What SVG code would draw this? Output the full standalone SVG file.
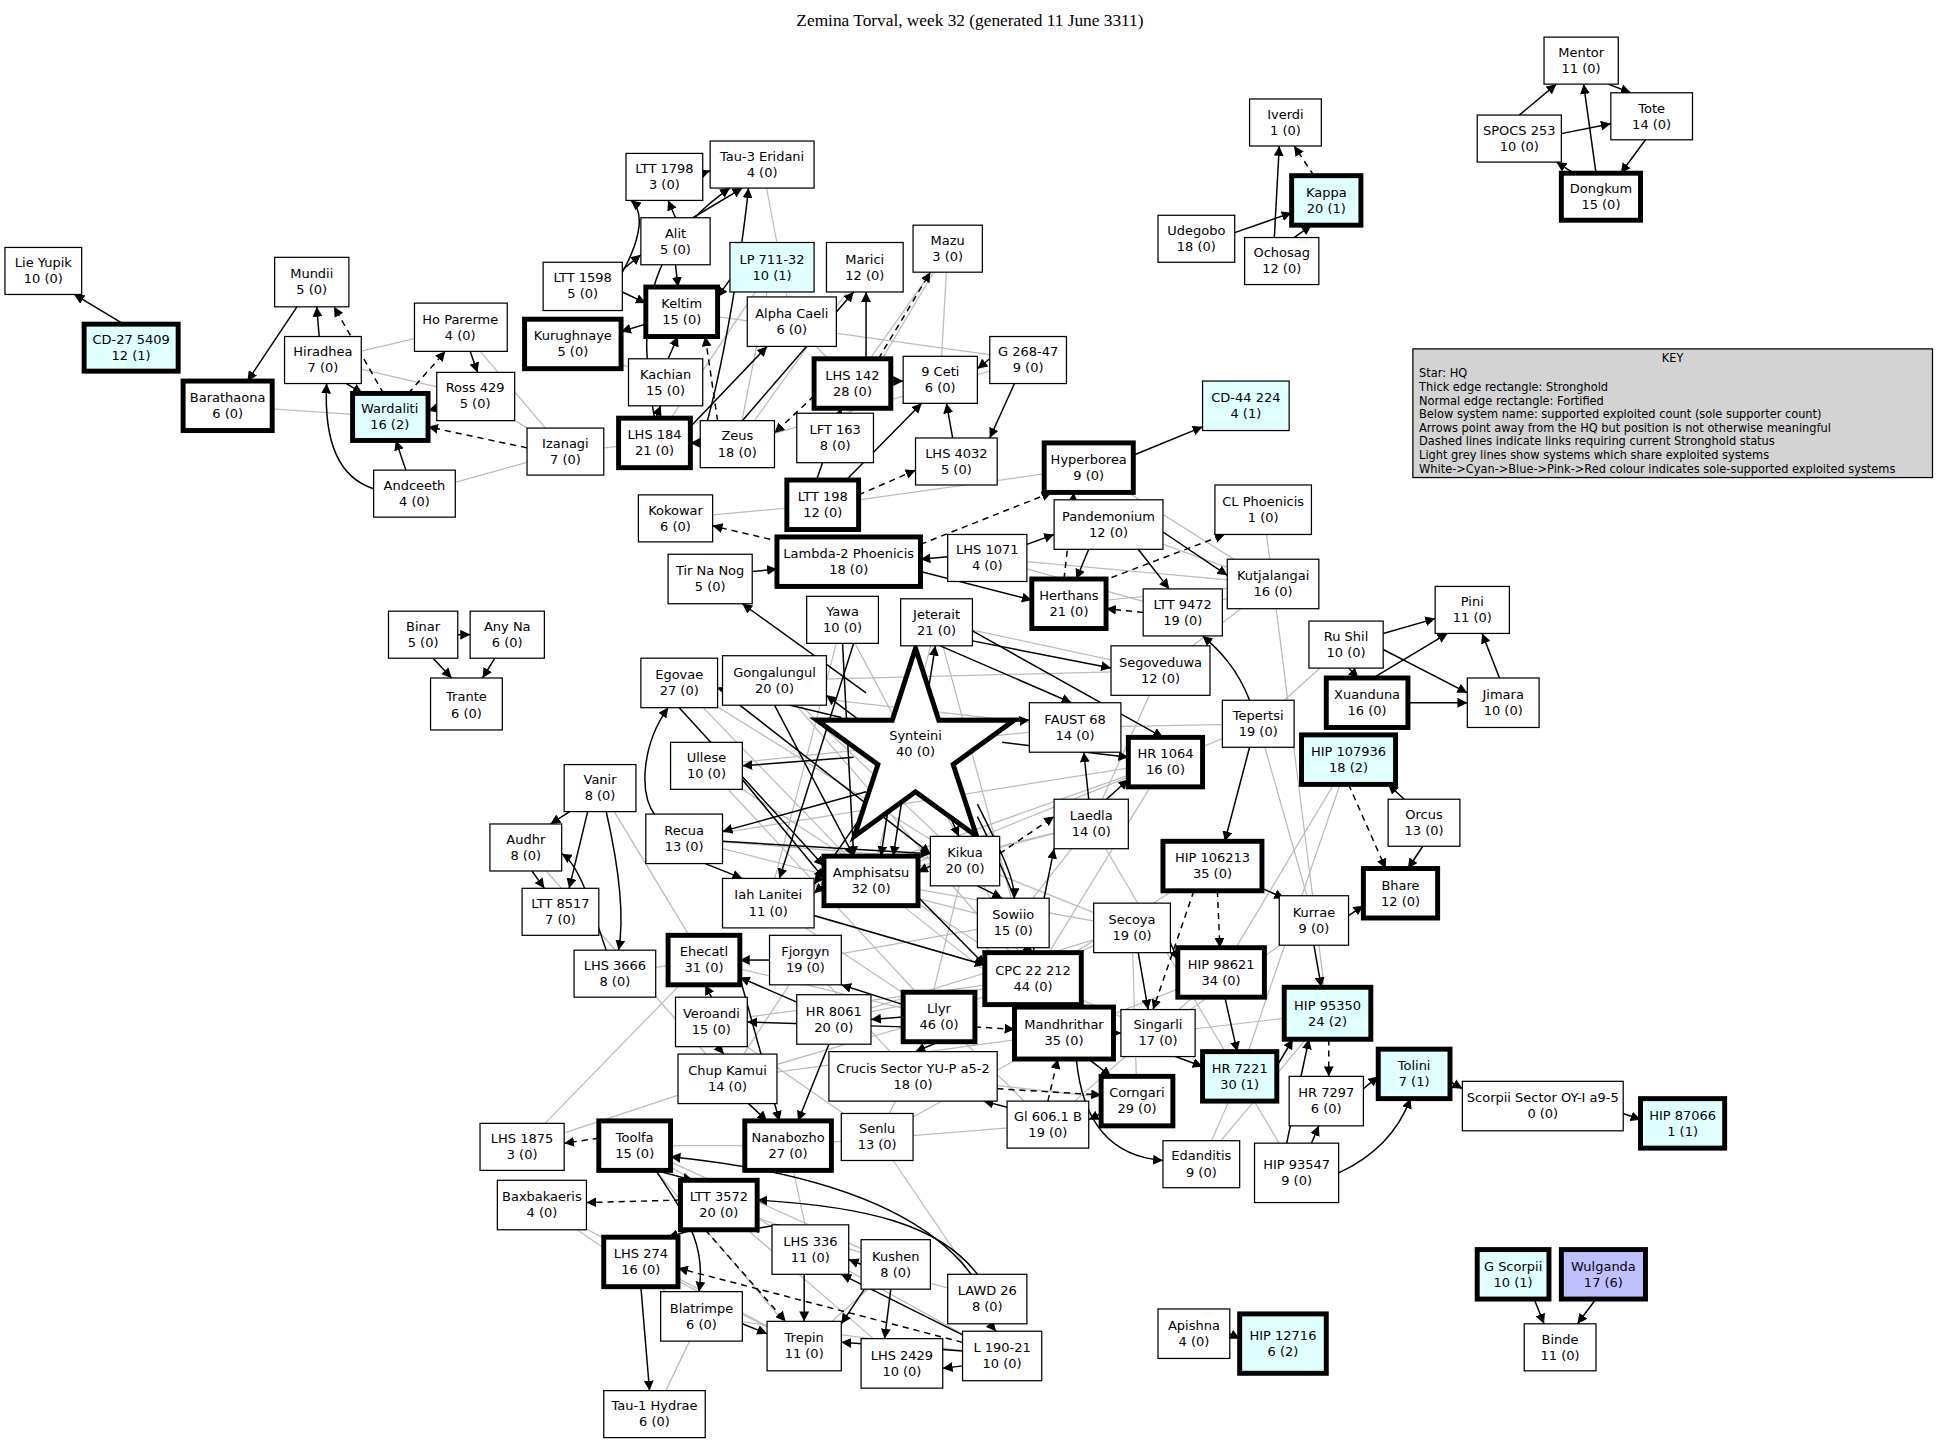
<svg xmlns="http://www.w3.org/2000/svg" width="1940" height="1443" viewBox="0 0 1940 1443">
<style>
rect{fill:#fff;stroke:#000;stroke-width:1}
rect.t{stroke-width:4}
rect.c{fill:#e0ffff}
rect.b{fill:#c0c0ff}
text{font-family:"DejaVu Sans",sans-serif;font-size:10.5px;text-anchor:middle;fill:#000}
text.k{font-size:9.2px;text-anchor:start}
.e line,.e path{stroke:#000;stroke-width:1.2;fill:none;marker-end:url(#a)}
.e .d{stroke-dasharray:5,4}
.g line{stroke:#bbb;stroke-width:1}
</style>
<defs><marker id="a" viewBox="0 0 10 10" refX="10" refY="5" markerWidth="8" markerHeight="8" orient="auto" markerUnits="userSpaceOnUse"><path d="M0,0L10,5L0,10z" fill="#000"/></marker></defs>
<rect x="0" y="0" width="1940" height="1443" style="fill:#fff;stroke:none"/>
<g transform="scale(1.2372)">
<text x="784" y="21" style="font-family:'Liberation Serif',serif;font-size:14px">Zemina Torval, week 32 (generated 11 June 3311)</text>
<g class="g">
<line x1="624" y1="216" x2="596" y2="359"/><line x1="624" y1="216" x2="529" y2="358"/><line x1="616" y1="133" x2="640" y2="260"/><line x1="766" y1="201" x2="689" y2="310"/><line x1="766" y1="201" x2="760" y2="307"/><line x1="766" y1="201" x2="675" y2="354"/><line x1="699" y1="216" x2="596" y2="359"/><line x1="640" y1="260" x2="689" y2="310"/><line x1="372" y1="265" x2="261" y2="291"/><line x1="372" y1="265" x2="457" y2="365"/><line x1="184" y1="328" x2="315" y2="337"/><line x1="261" y1="291" x2="384" y2="320"/><line x1="384" y1="320" x2="457" y2="365"/><line x1="457" y1="365" x2="335" y2="399"/><line x1="457" y1="365" x2="529" y2="358"/><line x1="463" y1="278" x2="538" y2="309"/><line x1="551" y1="252" x2="831" y2="291"/><line x1="596" y1="359" x2="831" y2="291"/><line x1="546" y1="419" x2="665" y2="408"/><line x1="665" y1="408" x2="880" y2="378"/><line x1="880" y1="378" x2="1029" y2="472"/><line x1="896" y1="424" x2="1029" y2="472"/><line x1="798" y1="451" x2="1029" y2="472"/><line x1="798" y1="451" x2="956" y2="495"/><line x1="864" y1="488" x2="1029" y2="472"/><line x1="1021" y1="412" x2="1029" y2="472"/><line x1="956" y1="495" x2="1029" y2="472"/><line x1="1017" y1="585" x2="1088" y2="521"/><line x1="1017" y1="585" x2="869" y2="588"/><line x1="1017" y1="585" x2="942" y2="616"/><line x1="1017" y1="585" x2="1062" y2="744"/><line x1="1029" y1="472" x2="1073" y2="819"/><line x1="1090" y1="614" x2="987" y2="786"/><line x1="1090" y1="614" x2="1002" y2="870"/><line x1="938" y1="542" x2="1029" y2="472"/><line x1="938" y1="542" x2="882" y2="666"/><line x1="938" y1="542" x2="757" y2="503"/><line x1="938" y1="542" x2="626" y2="550"/><line x1="869" y1="588" x2="549" y2="552"/><line x1="869" y1="588" x2="571" y2="619"/><line x1="942" y1="616" x2="553" y2="678"/><line x1="942" y1="616" x2="621" y2="730"/><line x1="942" y1="616" x2="704" y2="712"/><line x1="942" y1="616" x2="835" y2="791"/><line x1="882" y1="666" x2="704" y2="712"/><line x1="882" y1="666" x2="621" y2="730"/><line x1="882" y1="666" x2="819" y2="746"/><line x1="882" y1="666" x2="1002" y2="870"/><line x1="757" y1="503" x2="835" y2="791"/><line x1="757" y1="503" x2="704" y2="712"/><line x1="681" y1="501" x2="621" y2="730"/><line x1="681" y1="501" x2="835" y2="791"/><line x1="626" y1="550" x2="835" y2="791"/><line x1="626" y1="550" x2="780" y2="696"/><line x1="549" y1="552" x2="780" y2="696"/><line x1="549" y1="552" x2="704" y2="712"/><line x1="571" y1="619" x2="835" y2="791"/><line x1="571" y1="619" x2="759" y2="822"/><line x1="553" y1="678" x2="780" y2="696"/><line x1="553" y1="678" x2="819" y2="746"/><line x1="485" y1="637" x2="569" y2="776"/><line x1="425" y1="685" x2="588" y2="872"/><line x1="621" y1="730" x2="835" y2="791"/><line x1="621" y1="730" x2="759" y2="822"/><line x1="704" y1="712" x2="860" y2="835"/><line x1="704" y1="712" x2="915" y2="750"/><line x1="780" y1="696" x2="915" y2="750"/><line x1="780" y1="696" x2="738" y2="870"/><line x1="819" y1="746" x2="651" y2="776"/><line x1="835" y1="791" x2="575" y2="826"/><line x1="835" y1="791" x2="674" y2="824"/><line x1="835" y1="791" x2="936" y2="835"/><line x1="915" y1="750" x2="759" y2="822"/><line x1="915" y1="750" x2="919" y2="890"/><line x1="915" y1="750" x2="674" y2="824"/><line x1="987" y1="786" x2="860" y2="835"/><line x1="987" y1="786" x2="847" y2="909"/><line x1="980" y1="700" x2="835" y2="791"/><line x1="1062" y1="744" x2="936" y2="835"/><line x1="1073" y1="819" x2="936" y2="835"/><line x1="1073" y1="819" x2="971" y2="941"/><line x1="1002" y1="870" x2="1048" y2="948"/><line x1="1002" y1="870" x2="971" y2="941"/><line x1="759" y1="822" x2="847" y2="909"/><line x1="759" y1="822" x2="709" y2="919"/><line x1="759" y1="822" x2="588" y2="872"/><line x1="651" y1="776" x2="738" y2="870"/><line x1="651" y1="776" x2="588" y2="872"/><line x1="569" y1="776" x2="759" y2="822"/><line x1="575" y1="826" x2="709" y2="919"/><line x1="588" y1="872" x2="860" y2="835"/><line x1="588" y1="872" x2="422" y2="927"/><line x1="738" y1="870" x2="919" y2="890"/><line x1="637" y1="926" x2="847" y2="909"/><line x1="709" y1="919" x2="860" y2="835"/><line x1="637" y1="926" x2="513" y2="926"/><line x1="513" y1="926" x2="655" y2="1010"/><line x1="513" y1="926" x2="724" y2="1022"/><line x1="513" y1="926" x2="650" y2="1088"/><line x1="581" y1="974" x2="724" y2="1022"/><line x1="581" y1="974" x2="729" y2="1102"/><line x1="438" y1="974" x2="567" y2="1064"/><line x1="438" y1="974" x2="650" y2="1088"/><line x1="518" y1="1020" x2="650" y2="1088"/><line x1="567" y1="1064" x2="529" y2="1143"/><line x1="567" y1="1064" x2="810" y2="1096"/><line x1="655" y1="1010" x2="798" y2="1050"/><line x1="655" y1="1010" x2="810" y2="1096"/><line x1="724" y1="1022" x2="650" y2="1088"/><line x1="709" y1="919" x2="798" y2="1050"/><line x1="637" y1="926" x2="655" y2="1010"/><line x1="422" y1="927" x2="569" y2="776"/><line x1="497" y1="787" x2="569" y2="776"/>
</g>
<g class="e">
<line x1="1228" y1="93" x2="1258" y2="68"/><line x1="1290" y1="140" x2="1280" y2="68"/><line x1="1300" y1="68" x2="1318" y2="75"/><line x1="1262" y1="108" x2="1302" y2="100"/><line x1="1330" y1="113" x2="1310" y2="140"/><line x1="1272" y1="140" x2="1258" y2="131"/>
<line x1="998" y1="188" x2="1044" y2="172"/><line x1="1030" y1="192" x2="1034" y2="118"/><line class="d" x1="1062" y1="142" x2="1046" y2="118"/><line x1="1046" y1="192" x2="1060" y2="182"/>
<line x1="100" y1="262" x2="60" y2="238"/><line x1="258" y1="272" x2="256" y2="248"/><line x1="240" y1="248" x2="200" y2="308"/><line class="d" x1="310" y1="318" x2="270" y2="248"/><line x1="353" y1="330" x2="346" y2="332"/><line x1="380" y1="284" x2="386" y2="301"/><line class="d" x1="330" y1="318" x2="360" y2="284"/><line class="d" x1="426" y1="362" x2="346" y2="345"/><line x1="328" y1="380" x2="320" y2="356"/><path d="M302,395 C270,385 262,350 264,310"/><line x1="280" y1="310" x2="293" y2="318"/>
<path d="M502,222 C520,190 520,170 510,162"/><line x1="560" y1="176" x2="600" y2="152"/><line x1="568" y1="140" x2="574" y2="138"/><line x1="546" y1="176" x2="540" y2="162"/><line x1="546" y1="214" x2="548" y2="232"/><line x1="503" y1="236" x2="522" y2="245"/><line x1="522" y1="262" x2="502" y2="268"/><line x1="503" y1="218" x2="518" y2="206"/><line x1="540" y1="290" x2="548" y2="272"/><line x1="530" y1="338" x2="534" y2="328"/><line x1="558" y1="345" x2="620" y2="280"/><line class="d" x1="580" y1="340" x2="570" y2="272"/><line x1="600" y1="340" x2="690" y2="236"/><line class="d" x1="658" y1="320" x2="626" y2="350"/><line x1="700" y1="290" x2="700" y2="236"/><line x1="590" y1="226" x2="580" y2="240"/><line x1="720" y1="308" x2="730" y2="308"/><line x1="800" y1="290" x2="790" y2="298"/><line x1="770" y1="354" x2="765" y2="326"/><line x1="820" y1="310" x2="800" y2="354"/><line x1="660" y1="388" x2="680" y2="330"/><line x1="684" y1="388" x2="745" y2="326"/><line class="d" x1="694" y1="400" x2="740" y2="380"/><line class="d" x1="710" y1="290" x2="752" y2="220"/><line x1="566" y1="358" x2="558" y2="358"/><path d="M529,338 C515,260 520,200 590,152"/><path d="M566,360 C585,300 600,200 605,152"/>
<line class="d" x1="640" y1="440" x2="576" y2="425"/><line class="d" x1="744" y1="440" x2="850" y2="398"/><line x1="916" y1="368" x2="972" y2="345"/><line x1="880" y1="444" x2="870" y2="468"/><line x1="766" y1="450" x2="744" y2="452"/><line x1="830" y1="440" x2="852" y2="432"/><line x1="744" y1="462" x2="834" y2="485"/><line class="d" x1="860" y1="468" x2="868" y2="398"/><line class="d" x1="924" y1="495" x2="894" y2="492"/><line class="d" x1="890" y1="470" x2="990" y2="432"/><line x1="940" y1="430" x2="992" y2="465"/><line x1="920" y1="444" x2="945" y2="476"/><line x1="608" y1="462" x2="628" y2="460"/>
<line x1="1118" y1="512" x2="1160" y2="500"/><line x1="1118" y1="525" x2="1186" y2="560"/><line x1="1110" y1="548" x2="1170" y2="512"/><line x1="1138" y1="568" x2="1186" y2="568"/><line x1="1090" y1="540" x2="1098" y2="548"/><line x1="1212" y1="548" x2="1198" y2="512"/>
<line x1="370" y1="513" x2="380" y2="513"/><line x1="350" y1="532" x2="365" y2="548"/><line x1="400" y1="532" x2="390" y2="548"/>
<line x1="1010" y1="604" x2="990" y2="680"/><path d="M1010,566 C1000,540 985,525 972,514"/><line class="d" x1="1090" y1="634" x2="1120" y2="702"/><line x1="1150" y1="684" x2="1138" y2="702"/><line x1="1135" y1="646" x2="1122" y2="634"/><line x1="1020" y1="718" x2="1038" y2="726"/><line class="d" x1="984" y1="720" x2="986" y2="766"/><line class="d" x1="965" y1="720" x2="932" y2="816"/><line x1="1090" y1="740" x2="1102" y2="732"/><line x1="1062" y1="764" x2="1068" y2="798"/><line x1="990" y1="806" x2="1000" y2="850"/><line x1="946" y1="762" x2="952" y2="776"/><line x1="920" y1="770" x2="928" y2="816"/><line class="d" x1="1074" y1="840" x2="1074" y2="870"/><line x1="1102" y1="880" x2="1114" y2="870"/><line x1="1172" y1="874" x2="1182" y2="880"/><line x1="1312" y1="900" x2="1326" y2="905"/><path d="M1082,948 C1110,935 1130,915 1140,888"/><line x1="1060" y1="924" x2="1066" y2="910"/><line x1="1040" y1="924" x2="1058" y2="840"/><line x1="1032" y1="862" x2="1045" y2="840"/><line x1="950" y1="854" x2="972" y2="862"/>
<line x1="880" y1="856" x2="898" y2="870"/><path d="M870,856 C875,910 900,935 940,938"/><line x1="900" y1="835" x2="906" y2="835"/><line class="d" x1="788" y1="830" x2="820" y2="832"/><line x1="730" y1="822" x2="704" y2="824"/><line class="d" x1="806" y1="880" x2="890" y2="885"/><line class="d" x1="847" y1="890" x2="855" y2="856"/><line x1="890" y1="900" x2="880" y2="905"/><line x1="814" y1="895" x2="795" y2="890"/>
<line x1="994" y1="1078" x2="1002" y2="1082"/><line x1="1240" y1="1050" x2="1248" y2="1070"/><line x1="1290" y1="1050" x2="1275" y2="1070"/>
<line x1="690" y1="612" x2="600" y2="619"/><line x1="700" y1="640" x2="584" y2="672"/><line x1="705" y1="590" x2="668" y2="562"/><line x1="710" y1="640" x2="658" y2="715"/><line x1="768" y1="660" x2="775" y2="676"/><path d="M790,650 C810,690 820,710 820,726"/><line x1="680" y1="580" x2="580" y2="556"/><line x1="700" y1="560" x2="600" y2="488"/><line x1="750" y1="560" x2="756" y2="522"/><line x1="800" y1="585" x2="832" y2="582"/><line x1="810" y1="600" x2="912" y2="612"/><path d="M790,660 C820,720 830,750 832,770"/><line x1="720" y1="640" x2="712" y2="692"/><line x1="730" y1="640" x2="722" y2="692"/>
<line x1="666" y1="715" x2="658" y2="722"/><line x1="752" y1="700" x2="742" y2="705"/><line x1="880" y1="646" x2="876" y2="608"/><line x1="890" y1="650" x2="912" y2="630"/><line class="d" x1="808" y1="690" x2="852" y2="660"/><line x1="830" y1="766" x2="835" y2="770"/><line x1="790" y1="716" x2="810" y2="726"/>
<line x1="760" y1="522" x2="866" y2="568"/><line x1="786" y1="510" x2="940" y2="596"/><line x1="786" y1="518" x2="898" y2="540"/><line x1="681" y1="520" x2="690" y2="692"/><line x1="690" y1="520" x2="630" y2="710"/><line x1="626" y1="570" x2="690" y2="692"/><line x1="549" y1="572" x2="666" y2="700"/><line x1="580" y1="556" x2="752" y2="690"/><line x1="600" y1="630" x2="666" y2="710"/><line x1="584" y1="680" x2="752" y2="690"/><line x1="658" y1="740" x2="796" y2="780"/><line x1="742" y1="725" x2="796" y2="780"/><line x1="835" y1="770" x2="852" y2="686"/>
<line x1="470" y1="650" x2="445" y2="666"/><line x1="475" y1="656" x2="460" y2="718"/><path d="M490,656 C500,700 505,740 500,768"/><line x1="430" y1="704" x2="440" y2="718"/><path d="M490,768 C480,740 470,700 454,690"/><path d="M530,660 C515,640 520,600 540,572"/><line x1="570" y1="698" x2="600" y2="710"/>
<line x1="622" y1="776" x2="598" y2="776"/><line x1="644" y1="810" x2="598" y2="790"/><line x1="575" y1="806" x2="570" y2="796"/><line x1="580" y1="846" x2="585" y2="852"/><line x1="605" y1="892" x2="620" y2="906"/><line x1="670" y1="844" x2="645" y2="906"/><line x1="598" y1="790" x2="630" y2="906"/><line x1="759" y1="842" x2="740" y2="850"/><line x1="730" y1="812" x2="680" y2="796"/><line x1="730" y1="830" x2="604" y2="826"/>
<line class="d" x1="484" y1="920" x2="456" y2="924"/><line x1="530" y1="946" x2="560" y2="954"/><line class="d" x1="550" y1="970" x2="474" y2="972"/><line x1="560" y1="994" x2="540" y2="1000"/><line x1="518" y1="1040" x2="525" y2="1124"/><path d="M530,946 C560,990 570,1010 565,1044"/><path d="M790,1030 C760,990 700,975 612,970"/><path d="M785,1030 C740,970 640,945 542,935"/><line x1="630" y1="990" x2="605" y2="994"/><line x1="650" y1="1030" x2="650" y2="1068"/><line x1="720" y1="1042" x2="715" y2="1082"/><line x1="778" y1="1092" x2="680" y2="1085"/><line x1="778" y1="1104" x2="762" y2="1106"/><line x1="800" y1="1070" x2="805" y2="1076"/><line class="d" x1="570" y1="994" x2="635" y2="1068"/><line class="d" x1="778" y1="1085" x2="548" y2="1025"/><line x1="600" y1="1070" x2="620" y2="1078"/><line x1="696" y1="1022" x2="686" y2="1018"/><line x1="700" y1="1040" x2="680" y2="1070"/><line x1="780" y1="1080" x2="680" y2="1030"/>
</g>
<polygon id="Synteini" points="740,524 758.8,582.1 819.9,582 770.4,617.9 789.4,676 740,640 690.6,676 709.6,617.9 660.1,582 721.2,582.1" style="fill:#fff;stroke:#000;stroke-width:4"/>
<text x="740" y="598">Synteini</text><text x="740" y="611">40 (0)</text>
<g id="nodes">
<g id="n1"><rect x="1248" y="30" width="60" height="38"/><text x="1278" y="46">Mentor</text><text x="1278" y="59">11 (0)</text></g>
<g id="n2"><rect x="1302" y="75" width="66" height="38"/><text x="1335" y="91">Tote</text><text x="1335" y="104">14 (0)</text></g>
<g id="n3"><rect x="1194" y="93" width="68" height="38"/><text x="1228" y="109">SPOCS 253</text><text x="1228" y="122">10 (0)</text></g>
<g id="n4"><rect class="t" x="1262" y="140" width="64" height="38"/><text x="1294" y="156">Dongkum</text><text x="1294" y="169">15 (0)</text></g>
<g id="n5"><rect x="1010" y="80" width="58" height="38"/><text x="1039" y="96">Iverdi</text><text x="1039" y="109">1 (0)</text></g>
<g id="n6"><rect class="t c" x="1044" y="142" width="56" height="40"/><text x="1072" y="159">Kappa</text><text x="1072" y="172">20 (1)</text></g>
<g id="n7"><rect x="936" y="174" width="62" height="38"/><text x="967" y="190">Udegobo</text><text x="967" y="203">18 (0)</text></g>
<g id="n8"><rect x="1006" y="192" width="60" height="38"/><text x="1036" y="208">Ochosag</text><text x="1036" y="221">12 (0)</text></g>
<g id="n9"><rect x="4" y="200" width="62" height="38"/><text x="35" y="216">Lie Yupik</text><text x="35" y="229">10 (0)</text></g>
<g id="n10"><rect class="t c" x="68" y="262" width="76" height="38"/><text x="106" y="278">CD-27 5409</text><text x="106" y="291">12 (1)</text></g>
<g id="n11"><rect x="222" y="208" width="60" height="40"/><text x="252" y="225">Mundii</text><text x="252" y="238">5 (0)</text></g>
<g id="n12"><rect x="230" y="272" width="62" height="38"/><text x="261" y="288">Hiradhea</text><text x="261" y="301">7 (0)</text></g>
<g id="n13"><rect class="t" x="148" y="308" width="72" height="40"/><text x="184" y="325">Barathaona</text><text x="184" y="338">6 (0)</text></g>
<g id="n14"><rect x="335" y="245" width="75" height="39"/><text x="372" y="262">Ho Parerme</text><text x="372" y="275">4 (0)</text></g>
<g id="n15"><rect x="353" y="301" width="63" height="39"/><text x="384" y="317">Ross 429</text><text x="384" y="330">5 (0)</text></g>
<g id="n16"><rect class="t c" x="285" y="318" width="61" height="38"/><text x="315" y="334">Wardaliti</text><text x="315" y="347">16 (2)</text></g>
<g id="n17"><rect x="426" y="346" width="62" height="38"/><text x="457" y="362">Izanagi</text><text x="457" y="375">7 (0)</text></g>
<g id="n18"><rect x="302" y="380" width="66" height="38"/><text x="335" y="396">Andceeth</text><text x="335" y="409">4 (0)</text></g>
<g id="n19"><rect x="506" y="124" width="62" height="38"/><text x="537" y="140">LTT 1798</text><text x="537" y="153">3 (0)</text></g>
<g id="n20"><rect x="574" y="114" width="84" height="38"/><text x="616" y="130">Tau-3 Eridani</text><text x="616" y="143">4 (0)</text></g>
<g id="n21"><rect x="518" y="176" width="56" height="38"/><text x="546" y="192">Alit</text><text x="546" y="205">5 (0)</text></g>
<g id="n22"><rect x="439" y="212" width="64" height="39"/><text x="471" y="228">LTT 1598</text><text x="471" y="241">5 (0)</text></g>
<g id="n23"><rect class="c" x="590" y="196" width="68" height="40"/><text x="624" y="213">LP 711-32</text><text x="624" y="226">10 (1)</text></g>
<g id="n24"><rect x="668" y="196" width="62" height="40"/><text x="699" y="213">Marici</text><text x="699" y="226">12 (0)</text></g>
<g id="n25"><rect x="738" y="182" width="56" height="38"/><text x="766" y="198">Mazu</text><text x="766" y="211">3 (0)</text></g>
<g id="n26"><rect class="t" x="522" y="232" width="58" height="40"/><text x="551" y="249">Keltim</text><text x="551" y="262">15 (0)</text></g>
<g id="n27"><rect class="t" x="424" y="258" width="78" height="40"/><text x="463" y="275">Kurughnaye</text><text x="463" y="288">5 (0)</text></g>
<g id="n28"><rect x="604" y="240" width="72" height="40"/><text x="640" y="257">Alpha Caeli</text><text x="640" y="270">6 (0)</text></g>
<g id="n29"><rect x="508" y="290" width="60" height="38"/><text x="538" y="306">Kachian</text><text x="538" y="319">15 (0)</text></g>
<g id="n30"><rect class="t" x="658" y="290" width="62" height="40"/><text x="689" y="307">LHS 142</text><text x="689" y="320">28 (0)</text></g>
<g id="n31"><rect x="730" y="288" width="60" height="38"/><text x="760" y="304">9 Ceti</text><text x="760" y="317">6 (0)</text></g>
<g id="n32"><rect x="800" y="272" width="62" height="38"/><text x="831" y="288">G 268-47</text><text x="831" y="301">9 (0)</text></g>
<g id="n33"><rect class="t" x="500" y="338" width="58" height="40"/><text x="529" y="355">LHS 184</text><text x="529" y="368">21 (0)</text></g>
<g id="n34"><rect x="566" y="340" width="60" height="38"/><text x="596" y="356">Zeus</text><text x="596" y="369">18 (0)</text></g>
<g id="n35"><rect x="644" y="334" width="62" height="40"/><text x="675" y="351">LFT 163</text><text x="675" y="364">8 (0)</text></g>
<g id="n36"><rect x="740" y="354" width="66" height="38"/><text x="773" y="370">LHS 4032</text><text x="773" y="383">5 (0)</text></g>
<g id="n37"><rect class="t" x="636" y="388" width="58" height="40"/><text x="665" y="405">LTT 198</text><text x="665" y="418">12 (0)</text></g>
<g id="n38"><rect class="c" x="972" y="308" width="70" height="40"/><text x="1007" y="325">CD-44 224</text><text x="1007" y="338">4 (1)</text></g>
<g id="key"><rect x="1142" y="282" width="420" height="104" style="fill:#d3d3d3"/><text x="1352" y="293" style="font-size:9.2px">KEY</text>
<text class="k" x="1147" y="305">Star: HQ</text><text class="k" x="1147" y="316">Thick edge rectangle: Stronghold</text><text class="k" x="1147" y="327">Normal edge rectangle: Fortified</text><text class="k" x="1147" y="338">Below system name: supported exploited count (sole supporter count)</text><text class="k" x="1147" y="349">Arrows point away from the HQ but position is not otherwise meaningful</text><text class="k" x="1147" y="360">Dashed lines indicate links requiring current Stronghold status</text><text class="k" x="1147" y="371">Light grey lines show systems which share exploited systems</text><text class="k" x="1147" y="382">White-&gt;Cyan-&gt;Blue-&gt;Pink-&gt;Red colour indicates sole-supported exploited systems</text></g>
<g id="n39"><rect class="t" x="844" y="358" width="72" height="40"/><text x="880" y="375">Hyperborea</text><text x="880" y="388">9 (0)</text></g>
<g id="n40"><rect x="852" y="404" width="88" height="40"/><text x="896" y="421">Pandemonium</text><text x="896" y="434">12 (0)</text></g>
<g id="n41"><rect x="982" y="392" width="78" height="40"/><text x="1021" y="409">CL Phoenicis</text><text x="1021" y="422">1 (0)</text></g>
<g id="n42"><rect x="516" y="400" width="60" height="38"/><text x="546" y="416">Kokowar</text><text x="546" y="429">6 (0)</text></g>
<g id="n43"><rect class="t" x="628" y="434" width="116" height="40"/><text x="686" y="451">Lambda-2 Phoenicis</text><text x="686" y="464">18 (0)</text></g>
<g id="n44"><rect x="766" y="432" width="64" height="38"/><text x="798" y="448">LHS 1071</text><text x="798" y="461">4 (0)</text></g>
<g id="n45"><rect class="t" x="834" y="468" width="60" height="40"/><text x="864" y="485">Herthans</text><text x="864" y="498">21 (0)</text></g>
<g id="n46"><rect x="992" y="452" width="74" height="40"/><text x="1029" y="469">Kutjalangai</text><text x="1029" y="482">16 (0)</text></g>
<g id="n47"><rect x="924" y="476" width="64" height="38"/><text x="956" y="492">LTT 9472</text><text x="956" y="505">19 (0)</text></g>
<g id="n48"><rect x="540" y="448" width="68" height="40"/><text x="574" y="465">Tir Na Nog</text><text x="574" y="478">5 (0)</text></g>
<g id="n49"><rect x="652" y="482" width="58" height="38"/><text x="681" y="498">Yawa</text><text x="681" y="511">10 (0)</text></g>
<g id="n50"><rect x="728" y="484" width="58" height="38"/><text x="757" y="500">Jeterait</text><text x="757" y="513">21 (0)</text></g>
<g id="n51"><rect x="1160" y="474" width="60" height="38"/><text x="1190" y="490">Pini</text><text x="1190" y="503">11 (0)</text></g>
<g id="n52"><rect x="1058" y="502" width="60" height="38"/><text x="1088" y="518">Ru Shil</text><text x="1088" y="531">10 (0)</text></g>
<g id="n53"><rect x="1186" y="548" width="58" height="40"/><text x="1215" y="565">Jimara</text><text x="1215" y="578">10 (0)</text></g>
<g id="n54"><rect class="t" x="1072" y="548" width="66" height="40"/><text x="1105" y="565">Xuanduna</text><text x="1105" y="578">16 (0)</text></g>
<g id="n55"><rect x="314" y="494" width="56" height="38"/><text x="342" y="510">Binar</text><text x="342" y="523">5 (0)</text></g>
<g id="n56"><rect x="380" y="494" width="60" height="38"/><text x="410" y="510">Any Na</text><text x="410" y="523">6 (0)</text></g>
<g id="n57"><rect x="348" y="548" width="58" height="42"/><text x="377" y="567">Trante</text><text x="377" y="580">6 (0)</text></g>
<g id="n58"><rect x="518" y="532" width="62" height="40"/><text x="549" y="549">Egovae</text><text x="549" y="562">27 (0)</text></g>
<g id="n59"><rect x="584" y="530" width="84" height="40"/><text x="626" y="547">Gongalungul</text><text x="626" y="560">20 (0)</text></g>
<g id="n60"><rect x="898" y="522" width="80" height="40"/><text x="938" y="539">Segoveduwa</text><text x="938" y="552">12 (0)</text></g>
<g id="n61"><rect x="832" y="568" width="74" height="40"/><text x="869" y="585">FAUST 68</text><text x="869" y="598">14 (0)</text></g>
<g id="n62"><rect x="988" y="566" width="58" height="38"/><text x="1017" y="582">Tepertsi</text><text x="1017" y="595">19 (0)</text></g>
<g id="n63"><rect x="542" y="600" width="58" height="38"/><text x="571" y="616">Ullese</text><text x="571" y="629">10 (0)</text></g>
<g id="n64"><rect x="456" y="618" width="58" height="38"/><text x="485" y="634">Vanir</text><text x="485" y="647">8 (0)</text></g>
<g id="n65"><rect class="t" x="912" y="596" width="60" height="40"/><text x="942" y="613">HR 1064</text><text x="942" y="626">16 (0)</text></g>
<g id="n66"><rect class="t c" x="1052" y="594" width="76" height="40"/><text x="1090" y="611">HIP 107936</text><text x="1090" y="624">18 (2)</text></g>
<g id="n67"><rect x="852" y="646" width="60" height="40"/><text x="882" y="663">Laedla</text><text x="882" y="676">14 (0)</text></g>
<g id="n68"><rect x="1122" y="646" width="58" height="38"/><text x="1151" y="662">Orcus</text><text x="1151" y="675">13 (0)</text></g>
<g id="n69"><rect x="396" y="666" width="58" height="38"/><text x="425" y="682">Audhr</text><text x="425" y="695">8 (0)</text></g>
<g id="n70"><rect x="522" y="658" width="62" height="40"/><text x="553" y="675">Recua</text><text x="553" y="688">13 (0)</text></g>
<g id="n71"><rect x="752" y="676" width="56" height="40"/><text x="780" y="693">Kikua</text><text x="780" y="706">20 (0)</text></g>
<g id="n72"><rect class="t" x="666" y="692" width="76" height="40"/><text x="704" y="709">Amphisatsu</text><text x="704" y="722">32 (0)</text></g>
<g id="n73"><rect class="t" x="940" y="680" width="80" height="40"/><text x="980" y="697">HIP 106213</text><text x="980" y="710">35 (0)</text></g>
<g id="n74"><rect class="t" x="1102" y="702" width="60" height="40"/><text x="1132" y="719">Bhare</text><text x="1132" y="732">12 (0)</text></g>
<g id="n75"><rect x="422" y="718" width="62" height="38"/><text x="453" y="734">LTT 8517</text><text x="453" y="747">7 (0)</text></g>
<g id="n76"><rect x="584" y="710" width="74" height="40"/><text x="621" y="727">Iah Lanitei</text><text x="621" y="740">11 (0)</text></g>
<g id="n77"><rect x="790" y="726" width="58" height="40"/><text x="819" y="743">Sowiio</text><text x="819" y="756">15 (0)</text></g>
<g id="n78"><rect x="884" y="730" width="62" height="40"/><text x="915" y="747">Secoya</text><text x="915" y="760">19 (0)</text></g>
<g id="n79"><rect x="1034" y="724" width="56" height="40"/><text x="1062" y="741">Kurrae</text><text x="1062" y="754">9 (0)</text></g>
<g id="n80"><rect x="464" y="768" width="66" height="38"/><text x="497" y="784">LHS 3666</text><text x="497" y="797">8 (0)</text></g>
<g id="n81"><rect class="t" x="540" y="756" width="58" height="40"/><text x="569" y="773">Ehecatl</text><text x="569" y="786">31 (0)</text></g>
<g id="n82"><rect x="622" y="756" width="58" height="40"/><text x="651" y="773">Fjorgyn</text><text x="651" y="786">19 (0)</text></g>
<g id="n83"><rect class="t" x="796" y="770" width="78" height="42"/><text x="835" y="788">CPC 22 212</text><text x="835" y="801">44 (0)</text></g>
<g id="n84"><rect class="t" x="952" y="766" width="70" height="40"/><text x="987" y="783">HIP 98621</text><text x="987" y="796">34 (0)</text></g>
<g id="n85"><rect class="t c" x="1038" y="798" width="70" height="42"/><text x="1073" y="816">HIP 95350</text><text x="1073" y="829">24 (2)</text></g>
<g id="n86"><rect x="546" y="806" width="58" height="40"/><text x="575" y="823">Veroandi</text><text x="575" y="836">15 (0)</text></g>
<g id="n87"><rect x="644" y="804" width="60" height="40"/><text x="674" y="821">HR 8061</text><text x="674" y="834">20 (0)</text></g>
<g id="n88"><rect class="t" x="730" y="802" width="58" height="40"/><text x="759" y="819">Llyr</text><text x="759" y="832">46 (0)</text></g>
<g id="n89"><rect class="t" x="820" y="814" width="80" height="42"/><text x="860" y="832">Mandhrithar</text><text x="860" y="845">35 (0)</text></g>
<g id="n90"><rect x="906" y="816" width="60" height="38"/><text x="936" y="832">Singarli</text><text x="936" y="845">17 (0)</text></g>
<g id="n91"><rect class="t c" x="972" y="850" width="60" height="40"/><text x="1002" y="867">HR 7221</text><text x="1002" y="880">30 (1)</text></g>
<g id="n92"><rect class="t c" x="1114" y="848" width="58" height="40"/><text x="1143" y="865">Tolini</text><text x="1143" y="878">7 (1)</text></g>
<g id="n93"><rect x="548" y="852" width="80" height="40"/><text x="588" y="869">Chup Kamui</text><text x="588" y="882">14 (0)</text></g>
<g id="n94"><rect x="670" y="850" width="136" height="40"/><text x="738" y="867">Crucis Sector YU-P a5-2</text><text x="738" y="880">18 (0)</text></g>
<g id="n95"><rect class="t" x="890" y="870" width="58" height="40"/><text x="919" y="887">Corngari</text><text x="919" y="900">29 (0)</text></g>
<g id="n96"><rect x="1042" y="870" width="60" height="40"/><text x="1072" y="887">HR 7297</text><text x="1072" y="900">6 (0)</text></g>
<g id="n97"><rect x="1182" y="874" width="130" height="40"/><text x="1247" y="891">Scorpii Sector OY-I a9-5</text><text x="1247" y="904">0 (0)</text></g>
<g id="n98"><rect class="t c" x="1326" y="888" width="68" height="40"/><text x="1360" y="905">HIP 87066</text><text x="1360" y="918">1 (1)</text></g>
<g id="n99"><rect x="814" y="890" width="66" height="38"/><text x="847" y="906">Gl 606.1 B</text><text x="847" y="919">19 (0)</text></g>
<g id="n100"><rect x="680" y="900" width="58" height="38"/><text x="709" y="916">Senlu</text><text x="709" y="929">13 (0)</text></g>
<g id="n101"><rect class="t" x="602" y="906" width="70" height="40"/><text x="637" y="923">Nanabozho</text><text x="637" y="936">27 (0)</text></g>
<g id="n102"><rect x="940" y="922" width="62" height="38"/><text x="971" y="938">Edanditis</text><text x="971" y="951">9 (0)</text></g>
<g id="n103"><rect x="1014" y="924" width="68" height="48"/><text x="1048" y="945">HIP 93547</text><text x="1048" y="958">9 (0)</text></g>
<g id="n104"><rect x="388" y="908" width="68" height="38"/><text x="422" y="924">LHS 1875</text><text x="422" y="937">3 (0)</text></g>
<g id="n105"><rect class="t" x="484" y="906" width="58" height="40"/><text x="513" y="923">Toolfa</text><text x="513" y="936">15 (0)</text></g>
<g id="n106"><rect x="402" y="954" width="72" height="40"/><text x="438" y="971">Baxbakaeris</text><text x="438" y="984">4 (0)</text></g>
<g id="n107"><rect class="t" x="550" y="954" width="62" height="40"/><text x="581" y="971">LTT 3572</text><text x="581" y="984">20 (0)</text></g>
<g id="n108"><rect x="624" y="990" width="62" height="40"/><text x="655" y="1007">LHS 336</text><text x="655" y="1020">11 (0)</text></g>
<g id="n109"><rect x="696" y="1002" width="56" height="40"/><text x="724" y="1019">Kushen</text><text x="724" y="1032">8 (0)</text></g>
<g id="n110"><rect class="t" x="488" y="1000" width="60" height="40"/><text x="518" y="1017">LHS 274</text><text x="518" y="1030">16 (0)</text></g>
<g id="n111"><rect x="766" y="1030" width="64" height="40"/><text x="798" y="1047">LAWD 26</text><text x="798" y="1060">8 (0)</text></g>
<g id="n112"><rect x="534" y="1044" width="66" height="40"/><text x="567" y="1061">Blatrimpe</text><text x="567" y="1074">6 (0)</text></g>
<g id="n113"><rect x="620" y="1068" width="60" height="40"/><text x="650" y="1085">Trepin</text><text x="650" y="1098">11 (0)</text></g>
<g id="n114"><rect x="696" y="1082" width="66" height="40"/><text x="729" y="1099">LHS 2429</text><text x="729" y="1112">10 (0)</text></g>
<g id="n115"><rect x="778" y="1076" width="64" height="40"/><text x="810" y="1093">L 190-21</text><text x="810" y="1106">10 (0)</text></g>
<g id="n116"><rect x="488" y="1124" width="82" height="38"/><text x="529" y="1140">Tau-1 Hydrae</text><text x="529" y="1153">6 (0)</text></g>
<g id="n117"><rect x="936" y="1058" width="58" height="40"/><text x="965" y="1075">Apishna</text><text x="965" y="1088">4 (0)</text></g>
<g id="n118"><rect class="t c" x="1002" y="1062" width="70" height="48"/><text x="1037" y="1083">HIP 12716</text><text x="1037" y="1096">6 (2)</text></g>
<g id="n119"><rect class="t c" x="1194" y="1010" width="58" height="40"/><text x="1223" y="1027">G Scorpii</text><text x="1223" y="1040">10 (1)</text></g>
<g id="n120"><rect class="t b" x="1262" y="1010" width="68" height="40"/><text x="1296" y="1027">Wulganda</text><text x="1296" y="1040">17 (6)</text></g>
<g id="n121"><rect x="1232" y="1070" width="58" height="38"/><text x="1261" y="1086">Binde</text><text x="1261" y="1099">11 (0)</text></g>
</g>
</g>
</svg>
